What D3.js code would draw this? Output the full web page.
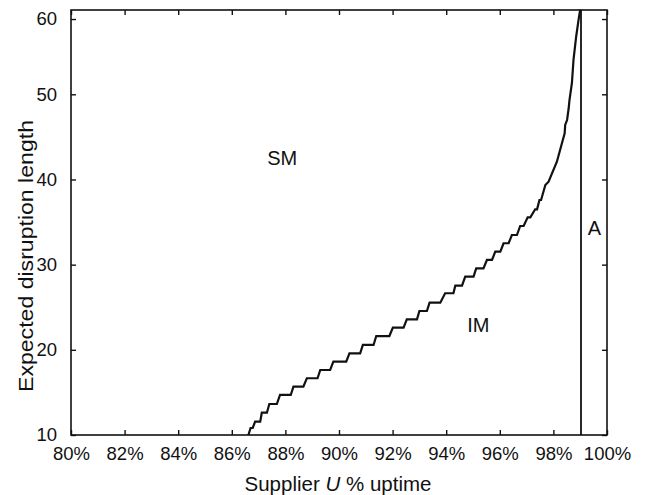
<!DOCTYPE html>
<html>
<head>
<meta charset="utf-8">
<script src="https://cdn.jsdelivr.net/npm/d3@7"></script>
<style>
  html, body { margin: 0; padding: 0; background: #fff; }
  svg { display: block; }
  text { font-family: "Liberation Sans", Arial, Helvetica, sans-serif; fill: #111; }
</style>
</head>
<body>
<script>
// Threshold curve separating the SM and IM policy regions (vertices of the staircase)
const uptime = [
  86.62, 86.70, 86.78, 86.87, 87.06, 87.12, 87.31, 87.40, 87.68, 87.80,
  88.20, 88.30, 88.67, 88.80, 89.20, 89.30, 89.67, 89.79, 90.27, 90.39,
  90.79, 90.89, 91.29, 91.39, 91.88, 92.01, 92.41, 92.53, 92.91, 93.00,
  93.28, 93.38, 93.78, 93.96, 94.27, 94.34, 94.59, 94.71, 95.02, 95.12,
  95.39, 95.52, 95.71, 95.83, 96.02, 96.14, 96.33, 96.45, 96.64, 96.76,
  96.89, 97.04, 97.14, 97.32, 97.39, 97.48, 97.54, 97.70, 97.82, 98.13,
  98.42, 98.44, 98.51, 98.57, 98.60, 98.69, 98.75, 98.85, 98.94, 98.98,
  99.00
];
const disruption = [
  10.00, 10.82, 10.82, 11.56, 11.56, 12.62, 12.62, 13.64, 13.64, 14.70,
  14.70, 15.67, 15.67, 16.66, 16.66, 17.63, 17.63, 18.61, 18.61, 19.59,
  19.59, 20.57, 20.57, 21.62, 21.62, 22.60, 22.60, 23.58, 23.58, 24.56,
  24.56, 25.53, 25.53, 26.64, 26.64, 27.53, 27.53, 28.59, 28.59, 29.57,
  29.57, 30.55, 30.55, 31.52, 31.52, 32.51, 32.51, 33.48, 33.48, 34.54,
  34.54, 35.56, 35.56, 36.50, 36.50, 37.59, 37.59, 39.35, 39.74, 42.09,
  45.42, 46.40, 46.98, 48.36, 49.33, 51.47, 54.57, 57.68, 59.91, 60.80,
  61.24
];
// Uptime above which policy A applies
const boundaryUptime = [99.03];

const xTicks = [80, 82, 84, 86, 88, 90, 92, 94, 96, 98, 100];
const yTicks = [10, 20, 30, 40, 50, 60];
const regionNames = ["SM", "IM", "A"];

const W = 650, H = 495;
const plotL = 71, plotR = 607, plotT = 10, plotB = 435;

const svg = d3.select("body").append("svg")
  .attr("width", W).attr("height", H);
svg.append("rect").attr("width", W).attr("height", H).attr("fill", "#fff");

const x = d3.scaleLinear().domain([80, 100]).range([plotL, plotR]);
const y = d3.scaleLinear().domain([10, 50, 61.2]).range([plotB, 94.3, plotT]);

const tickLen = 5;
const tickFont = "18.5px";

// Bottom axis with labels, inward ticks
const xAxis = d3.axisBottom(x).tickValues(xTicks)
  .tickFormat(d => d + "%").tickSizeInner(-tickLen).tickSizeOuter(0).tickPadding(12);
const gx = svg.append("g").attr("transform", `translate(0,${plotB})`).call(xAxis);

// Top axis mirror ticks
const gxt = svg.append("g").attr("transform", `translate(0,${plotT})`)
  .call(d3.axisTop(x).tickValues(xTicks).tickFormat("").tickSizeInner(-tickLen).tickSizeOuter(0));

// Left axis with labels
const yAxis = d3.axisLeft(y).tickValues(yTicks)
  .tickSizeInner(-tickLen).tickSizeOuter(0).tickPadding(14);
const gy = svg.append("g").attr("transform", `translate(${plotL},0)`).call(yAxis);

// Right axis mirror ticks
const gyr = svg.append("g").attr("transform", `translate(${plotR},0)`)
  .call(d3.axisRight(y).tickValues(yTicks).tickFormat("").tickSizeInner(-tickLen).tickSizeOuter(0));

[gx, gxt, gy, gyr].forEach(g => {
  g.select(".domain").remove();
  g.selectAll(".tick line").attr("stroke", "#111").attr("stroke-width", 1.4);
  g.selectAll(".tick text").style("font-size", tickFont)
    .style("font-family", '"Liberation Sans", Arial, sans-serif').attr("fill", "#111");
});
gx.selectAll(".tick text").attr("dy", "0.71em");

// Frame
svg.append("rect")
  .attr("x", plotL).attr("y", plotT)
  .attr("width", plotR - plotL).attr("height", plotB - plotT)
  .attr("fill", "none").attr("stroke", "#111").attr("stroke-width", 1.6);

// Policy boundary (vertical line)
svg.selectAll("line.boundary").data(boundaryUptime).enter().append("line")
  .attr("class", "boundary")
  .attr("x1", d => x(d)).attr("x2", d => x(d))
  .attr("y1", y(10)).attr("y2", y(61.2))
  .attr("stroke", "#111").attr("stroke-width", 1.8);

// Threshold staircase
const pts = uptime.map((u, i) => [u, disruption[i]]);
const line = d3.line().x(d => x(d[0])).y(d => y(d[1]));
svg.append("path").datum(pts)
  .attr("d", line)
  .attr("fill", "none").attr("stroke", "#111")
  .attr("stroke-width", 2.2).attr("stroke-linejoin", "miter");

// Region labels
const regionPos = [[87.88, 41.7], [95.2, 22.1], [99.53, 33.5]];
svg.selectAll("text.region").data(regionNames).enter().append("text")
  .attr("class", "region")
  .attr("x", (d, i) => x(regionPos[i][0]))
  .attr("y", (d, i) => y(regionPos[i][1]))
  .attr("text-anchor", "middle")
  .style("font-size", "20px")
  .text(d => d);

// Axis titles
const xt = svg.append("text")
  .attr("x", (plotL + plotR) / 2 - 1).attr("y", 491)
  .attr("text-anchor", "middle").style("font-size", "20.5px");
xt.append("tspan").text("Supplier ");
xt.append("tspan").style("font-style", "italic").text("U");
xt.append("tspan").text(" % uptime");

svg.append("text")
  .attr("transform", "translate(33,256) rotate(-90)")
  .attr("text-anchor", "middle").style("font-size", "20px")
  .attr("textLength", 272).attr("lengthAdjust", "spacingAndGlyphs")
  .text("Expected disruption length");
</script>
</body>
</html>
